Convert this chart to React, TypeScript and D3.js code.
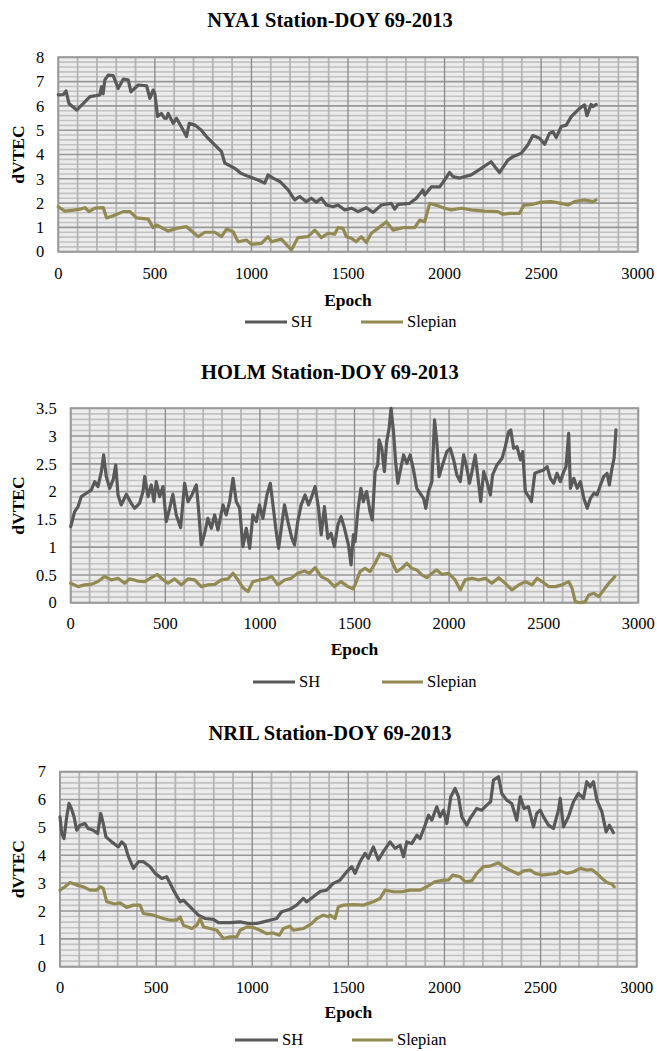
import React from "react";
import * as d3 from "d3";

type Pt = [number, number];

// ---------- DATA ----------
const xTicks = [0, 500, 1000, 1500, 2000, 2500, 3000];
const seriesNames = ["SH", "Slepian"];

const nya1Title = "NYA1 Station-DOY 69-2013";
const nya1YTicks = [0, 1, 2, 3, 4, 5, 6, 7, 8];
const nya1SH: Pt[] = [
  [0, 6.45], [26, 6.47], [40, 6.62], [55, 6.1], [95, 5.83], [130, 6.1], [164, 6.38], [215, 6.45], [224, 6.79],
  [232, 6.5], [241, 7.07], [259, 7.27], [284, 7.25], [310, 6.72], [336, 7.1], [362, 7.07], [376, 6.58],
  [414, 6.86], [457, 6.83], [474, 6.31], [491, 6.65], [500, 6.5], [514, 5.56], [534, 5.69], [548, 5.5], [560, 5.49],
  [569, 5.69], [595, 5.28], [612, 5.49], [640, 5.1], [664, 4.74], [678, 5.28], [707, 5.21], [741, 5.0],
  [750, 4.9], [767, 4.74], [802, 4.46], [845, 4.12], [862, 3.65], [914, 3.43], [945, 3.23], [983, 3.1],
  [1034, 2.95], [1069, 2.82], [1086, 3.16], [1112, 3.03], [1147, 2.89], [1190, 2.54], [1224, 2.13],
  [1250, 2.27], [1284, 2.06], [1310, 2.2], [1336, 2.04], [1362, 2.2], [1388, 1.92], [1422, 1.85],
  [1448, 1.92], [1483, 1.72], [1518, 1.79], [1552, 1.65], [1595, 1.81], [1630, 1.62], [1673, 1.92],
  [1724, 1.99], [1742, 1.75], [1759, 1.95], [1820, 1.99], [1854, 2.2], [1888, 2.54], [1897, 2.33],
  [1932, 2.67], [1975, 2.67], [2000, 2.95], [2026, 3.26], [2043, 3.09], [2078, 3.03], [2138, 3.16],
  [2190, 3.43], [2241, 3.7], [2267, 3.43], [2285, 3.26], [2328, 3.77], [2354, 3.91], [2397, 4.05],
  [2431, 4.39], [2457, 4.78], [2492, 4.67], [2518, 4.42], [2543, 4.87], [2561, 4.94], [2578, 4.7],
  [2604, 5.15], [2630, 5.21], [2656, 5.56], [2699, 5.9], [2725, 6.04], [2737, 5.6], [2759, 6.06],
  [2768, 5.97], [2785, 6.06],
];
const nya1Slepian: Pt[] = [
  [0, 1.85], [34, 1.67], [78, 1.71], [112, 1.75], [138, 1.81], [159, 1.65], [190, 1.79], [233, 1.81],
  [250, 1.39], [284, 1.48], [336, 1.65], [371, 1.65], [405, 1.39], [466, 1.34], [491, 0.99], [509, 1.1],
  [569, 0.85], [612, 0.96], [664, 1.03], [690, 0.85], [724, 0.62], [759, 0.8], [810, 0.8], [845, 0.62],
  [871, 0.93], [905, 0.82], [931, 0.41], [974, 0.48], [1000, 0.3], [1052, 0.34], [1086, 0.62],
  [1103, 0.41], [1155, 0.52], [1207, 0.07], [1241, 0.58], [1293, 0.62], [1328, 0.89], [1362, 0.58],
  [1397, 0.76], [1431, 0.72], [1448, 0.99], [1474, 0.96], [1491, 0.62], [1518, 0.55], [1543, 0.41],
  [1569, 0.62], [1595, 0.38], [1621, 0.76], [1655, 0.96], [1699, 1.23], [1733, 0.89], [1785, 0.99],
  [1845, 0.99], [1871, 1.3], [1897, 1.23], [1923, 1.99], [1966, 1.89], [2000, 1.79], [2035, 1.72],
  [2087, 1.79], [2138, 1.72], [2207, 1.67], [2276, 1.65], [2302, 1.54], [2345, 1.58], [2388, 1.58],
  [2411, 1.92], [2457, 1.95], [2500, 2.04], [2552, 2.06], [2604, 1.99], [2639, 1.92], [2673, 2.06],
  [2725, 2.13], [2768, 2.06], [2785, 2.13],
];

const holmTitle = "HOLM Station-DOY 69-2013";
const holmYTicks = [0, 0.5, 1, 1.5, 2, 2.5, 3, 3.5];
const holmSH: Pt[] = [
  [0, 1.37], [21, 1.64], [39, 1.73], [56, 1.91], [83, 1.97], [109, 2.03], [127, 2.18], [144, 2.09],
  [162, 2.36], [174, 2.66], [188, 2.27], [206, 2.06], [224, 2.21], [238, 2.48], [250, 1.94], [267, 1.76],
  [294, 1.95], [320, 1.79], [338, 1.7], [364, 1.79], [382, 2.0], [391, 2.27], [409, 1.91], [426, 2.12],
  [440, 1.82], [452, 2.18], [470, 1.91], [488, 2.09], [505, 1.46], [523, 1.7], [540, 1.95], [558, 1.58],
  [581, 1.35], [602, 2.15], [620, 1.82], [641, 1.94], [664, 2.12], [676, 1.67], [690, 1.04], [708, 1.25],
  [725, 1.52], [743, 1.34], [761, 1.58], [778, 1.31], [805, 1.76], [822, 1.58], [840, 1.82], [858, 2.24],
  [875, 1.82], [893, 1.7], [910, 1.01], [928, 1.34], [946, 0.98], [963, 1.58], [981, 1.46], [998, 1.76],
  [1016, 1.52], [1037, 1.94], [1055, 2.15], [1069, 1.76], [1086, 1.28], [1099, 0.98], [1113, 1.34],
  [1130, 1.76], [1148, 1.46], [1169, 1.16], [1183, 1.04], [1200, 1.46], [1218, 1.76], [1239, 1.94],
  [1257, 1.76], [1271, 1.88], [1292, 2.09], [1310, 1.7], [1324, 1.22], [1341, 1.73], [1359, 1.16],
  [1376, 1.25], [1394, 1.01], [1412, 1.4], [1429, 1.55], [1447, 1.34], [1468, 1.04], [1482, 0.68],
  [1494, 1.22], [1503, 1.1], [1517, 1.64], [1534, 2.06], [1547, 1.82], [1564, 2.0], [1582, 1.64],
  [1594, 1.49], [1609, 2.36], [1623, 2.48], [1630, 2.93], [1644, 2.78], [1658, 2.36], [1670, 2.9],
  [1683, 3.14], [1693, 3.5], [1706, 3.08], [1718, 2.51], [1729, 2.15], [1741, 2.36], [1759, 2.66],
  [1777, 2.51], [1794, 2.66], [1812, 2.39], [1829, 2.06], [1847, 1.97], [1865, 1.88], [1877, 1.7],
  [1891, 2.0], [1909, 2.18], [1923, 3.29], [1935, 2.9], [1947, 2.27], [1965, 2.48], [1988, 2.72],
  [2006, 2.78], [2024, 2.57], [2041, 2.3], [2059, 2.18], [2077, 2.66], [2094, 2.42], [2108, 2.15],
  [2121, 2.36], [2138, 2.66], [2153, 2.24], [2167, 1.82], [2183, 2.36], [2200, 2.18], [2218, 1.94],
  [2230, 2.3], [2253, 2.48], [2280, 2.6], [2297, 2.81], [2315, 3.08], [2326, 3.11], [2341, 2.78],
  [2359, 2.81], [2377, 2.57], [2389, 2.72], [2403, 2.0], [2421, 1.91], [2435, 1.82], [2453, 2.33],
  [2474, 2.36], [2500, 2.39], [2518, 2.45], [2535, 2.24], [2553, 2.15], [2570, 2.33], [2588, 2.18],
  [2606, 2.36], [2618, 2.45], [2632, 3.05], [2641, 2.06], [2659, 2.24], [2677, 2.06], [2694, 2.18],
  [2712, 1.88], [2730, 1.7], [2747, 1.88], [2765, 1.97], [2782, 1.94], [2800, 2.12], [2817, 2.27],
  [2835, 2.33], [2847, 2.12], [2861, 2.42], [2872, 2.6], [2882, 3.11],
];
const holmSlepian: Pt[] = [
  [0, 0.35], [39, 0.29], [74, 0.32], [109, 0.33], [144, 0.38], [179, 0.47], [215, 0.41], [250, 0.44],
  [285, 0.35], [311, 0.43], [355, 0.39], [391, 0.38], [426, 0.45], [458, 0.51], [479, 0.44], [514, 0.35],
  [549, 0.43], [585, 0.32], [620, 0.43], [655, 0.41], [690, 0.29], [725, 0.32], [761, 0.33], [796, 0.41],
  [831, 0.43], [858, 0.53], [884, 0.41], [910, 0.27], [937, 0.2], [963, 0.38], [998, 0.41], [1034, 0.43],
  [1063, 0.47], [1095, 0.32], [1130, 0.41], [1165, 0.44], [1200, 0.53], [1236, 0.57], [1262, 0.53],
  [1292, 0.63], [1324, 0.47], [1359, 0.41], [1394, 0.29], [1429, 0.38], [1465, 0.29], [1491, 0.25],
  [1503, 0.32], [1529, 0.56], [1556, 0.62], [1582, 0.56], [1609, 0.71], [1635, 0.89], [1662, 0.86],
  [1688, 0.83], [1706, 0.68], [1723, 0.56], [1750, 0.62], [1777, 0.71], [1803, 0.62], [1829, 0.59],
  [1856, 0.5], [1882, 0.45], [1909, 0.53], [1935, 0.59], [1962, 0.51], [1997, 0.53], [2032, 0.41],
  [2059, 0.23], [2085, 0.41], [2121, 0.44], [2156, 0.41], [2191, 0.44], [2226, 0.35], [2262, 0.45],
  [2297, 0.35], [2332, 0.23], [2368, 0.32], [2403, 0.38], [2438, 0.32], [2465, 0.44], [2491, 0.38],
  [2526, 0.29], [2562, 0.29], [2597, 0.32], [2632, 0.38], [2650, 0.26], [2667, 0.02], [2694, 0.0],
  [2720, 0.02], [2738, 0.14], [2765, 0.17], [2791, 0.11], [2817, 0.23], [2844, 0.35], [2876, 0.47],
];

const nrilTitle = "NRIL Station-DOY 69-2013";
const nrilYTicks = [0, 1, 2, 3, 4, 5, 6, 7];
const nrilSH: Pt[] = [
  [0, 5.38], [9, 4.78], [21, 4.6], [35, 5.38], [47, 5.86], [59, 5.68], [73, 5.38], [87, 4.9], [104, 5.08],
  [130, 5.14], [147, 4.96], [173, 4.9], [196, 4.78], [212, 5.5], [225, 5.14], [239, 4.66], [269, 4.48],
  [304, 4.3], [321, 4.48], [338, 4.36], [356, 3.95], [382, 3.53], [408, 3.77], [434, 3.77], [469, 3.59],
  [495, 3.35], [529, 3.17], [555, 3.23], [590, 2.75], [625, 2.33], [642, 2.39], [677, 2.15], [720, 1.85],
  [755, 1.73], [798, 1.7], [824, 1.58], [885, 1.58], [937, 1.61], [980, 1.55], [1023, 1.55], [1058, 1.61],
  [1092, 1.67], [1127, 1.73], [1153, 1.97], [1196, 2.06], [1231, 2.21], [1266, 2.45], [1283, 2.33],
  [1318, 2.51], [1353, 2.7], [1387, 2.75], [1422, 2.99], [1457, 3.11], [1492, 3.41], [1518, 3.59],
  [1535, 3.35], [1561, 3.77], [1587, 4.07], [1604, 3.89], [1630, 4.3], [1656, 3.83], [1682, 4.13],
  [1717, 4.48], [1743, 4.25], [1769, 4.36], [1787, 3.95], [1804, 4.48], [1830, 4.42], [1856, 4.72],
  [1873, 4.6], [1899, 5.08], [1917, 5.44], [1934, 5.26], [1960, 5.74], [1977, 5.38], [1995, 5.62],
  [2012, 5.14], [2033, 6.1], [2055, 6.4], [2073, 6.1], [2090, 5.38], [2116, 5.08], [2133, 5.32],
  [2151, 5.5], [2168, 5.68], [2194, 5.62], [2220, 5.8], [2240, 5.92], [2255, 6.7], [2281, 6.82],
  [2298, 6.22], [2324, 5.98], [2350, 5.86], [2376, 5.26], [2394, 6.1], [2414, 5.68], [2437, 5.74],
  [2463, 5.02], [2480, 5.5], [2498, 5.62], [2515, 5.38], [2541, 5.08], [2567, 4.96], [2593, 5.62],
  [2602, 6.04], [2619, 5.02], [2645, 5.38], [2671, 5.92], [2697, 6.22], [2723, 6.04], [2740, 6.64],
  [2758, 6.46], [2775, 6.64], [2793, 5.98], [2819, 5.56], [2841, 4.84], [2858, 5.08], [2879, 4.81],
];
const nrilSlepian: Pt[] = [
  [0, 2.75], [26, 2.87], [52, 3.02], [87, 2.93], [121, 2.87], [156, 2.75], [191, 2.75], [208, 2.87],
  [225, 2.81], [243, 2.33], [286, 2.25], [312, 2.29], [347, 2.13], [382, 2.21], [416, 2.21], [434, 1.91],
  [486, 1.85], [538, 1.73], [573, 1.67], [607, 1.67], [625, 1.79], [642, 1.49], [686, 1.37], [712, 1.49],
  [729, 1.73], [746, 1.43], [781, 1.37], [816, 1.31], [850, 1.01], [885, 1.07], [920, 1.07], [937, 1.31],
  [972, 1.43], [1006, 1.41], [1041, 1.31], [1075, 1.19], [1110, 1.21], [1141, 1.13], [1162, 1.37],
  [1196, 1.45], [1214, 1.31], [1266, 1.37], [1309, 1.55], [1335, 1.73], [1370, 1.85], [1396, 1.79],
  [1405, 1.85], [1431, 1.73], [1448, 2.15], [1474, 2.21], [1526, 2.23], [1578, 2.21], [1630, 2.33],
  [1665, 2.45], [1691, 2.75], [1734, 2.69], [1778, 2.69], [1821, 2.75], [1873, 2.75], [1908, 2.87],
  [1951, 3.05], [1995, 3.11], [2021, 3.11], [2043, 3.29], [2081, 3.23], [2107, 3.05], [2142, 3.08],
  [2168, 3.35], [2203, 3.59], [2237, 3.61], [2281, 3.73], [2307, 3.59], [2333, 3.49], [2359, 3.41],
  [2385, 3.32], [2411, 3.44], [2446, 3.47], [2472, 3.35], [2506, 3.29], [2550, 3.32], [2584, 3.35],
  [2602, 3.44], [2636, 3.35], [2671, 3.41], [2706, 3.53], [2740, 3.47], [2766, 3.49], [2793, 3.35],
  [2819, 3.17], [2845, 3.02], [2871, 2.97], [2883, 2.87],
];

// ---------- STYLE ----------
const SH_COLOR = "#595959";
const SLEP_COLOR = "#938953";
const FONT = "'Liberation Serif', 'Times New Roman', serif";

interface ChartCfg {
  title: string;
  titleY: number;
  box: { x0: number; x1: number; y0: number; y1: number };
  yTicks: number[];
  yMinor: number;
  sh: Pt[];
  slep: Pt[];
  xLabelY: number;
  epochY: number;
  legendY: number;
  legend: { sh: [number, number]; slep: [number, number] };
}

const charts: ChartCfg[] = [
  {
    title: nya1Title, titleY: 27,
    box: { x0: 58.3, x1: 637.7, y0: 57.3, y1: 251.7 },
    yTicks: nya1YTicks, yMinor: 0.2, sh: nya1SH, slep: nya1Slepian,
    xLabelY: 279, epochY: 306, legendY: 322,
    legend: { sh: [245, 287], slep: [361, 403] },
  },
  {
    title: holmTitle, titleY: 379,
    box: { x0: 70.7, x1: 638.3, y0: 408.3, y1: 602.7 },
    yTicks: holmYTicks, yMinor: 0.1, sh: holmSH, slep: holmSlepian,
    xLabelY: 629, epochY: 655, legendY: 682,
    legend: { sh: [253, 295], slep: [382, 423] },
  },
  {
    title: nrilTitle, titleY: 740,
    box: { x0: 60, x1: 636.7, y0: 771.7, y1: 966.7 },
    yTicks: nrilYTicks, yMinor: 0.2, sh: nrilSH, slep: nrilSlepian,
    xLabelY: 993, epochY: 1018, legendY: 1040,
    legend: { sh: [235, 278], slep: [352, 393] },
  },
];

function Chart({ c }: { c: ChartCfg }) {
  const { box } = c;
  const yMax = c.yTicks[c.yTicks.length - 1];
  const x = d3.scaleLinear().domain([0, 3000]).range([box.x0, box.x1]);
  const y = d3.scaleLinear().domain([0, yMax]).range([box.y1, box.y0]);
  const line = d3.line<Pt>().x((d) => x(d[0])).y((d) => y(d[1]));
  const minorY = d3.range(0, yMax + 1e-9, c.yMinor).filter((v) => !c.yTicks.some((t) => Math.abs(t - v) < 1e-6));
  const minorX = d3.range(0, 3001, 100).filter((v) => v % 500 !== 0);
  const cx = (box.x0 + box.x1) / 2;
  const cy = (box.y0 + box.y1) / 2;
  return (
    <g>
      <text x={330} y={c.titleY} textAnchor="middle" fontFamily={FONT} fontWeight="bold" fontSize={20.5} fill="#000">
        {c.title}
      </text>
      <rect x={box.x0} y={box.y0} width={box.x1 - box.x0} height={box.y1 - box.y0} fill="#ececec" />
      {minorY.map((v, i) => (
        <line key={"hy" + i} x1={box.x0} x2={box.x1} y1={y(v)} y2={y(v)} stroke="#c2c2c2" strokeWidth={1.6} />
      ))}
      {minorX.map((v) => (
        <line key={"vx" + v} x1={x(v)} x2={x(v)} y1={box.y0} y2={box.y1} stroke="#b5b5b5" strokeWidth={1.8} />
      ))}
      {c.yTicks.map((v) => (
        <line key={"my" + v} x1={box.x0} x2={box.x1} y1={y(v)} y2={y(v)} stroke="#979797" strokeWidth={1.6} />
      ))}
      {xTicks.map((v) => (
        <line key={"mx" + v} x1={x(v)} x2={x(v)} y1={box.y0} y2={box.y1} stroke="#8a8a8a" strokeWidth={1.3} />
      ))}
      <rect x={box.x0} y={box.y0} width={box.x1 - box.x0} height={box.y1 - box.y0} fill="none" stroke="#9a9a9a" strokeWidth={2} />
      <path d={line(c.sh) || ""} fill="none" stroke={SH_COLOR} strokeWidth={3.2} strokeLinejoin="round" strokeLinecap="round" />
      <path d={line(c.slep) || ""} fill="none" stroke={SLEP_COLOR} strokeWidth={3.2} strokeLinejoin="round" strokeLinecap="round" />
      {c.yTicks.map((v) => (
        <text key={"yl" + v} x={box.x0 - 14} y={y(v)} dy="0.35em" textAnchor="end" fontFamily={FONT} fontSize={16.5} fill="#000">
          {v}
        </text>
      ))}
      {xTicks.map((v) => (
        <text key={"xl" + v} x={x(v)} y={c.xLabelY} textAnchor="middle" fontFamily={FONT} fontSize={16.5} fill="#000">
          {v}
        </text>
      ))}
      <text x={cx} y={c.epochY} textAnchor="middle" fontFamily={FONT} fontWeight="bold" fontSize={17.5} fill="#000">
        Epoch
      </text>
      <text transform={`translate(${24},${cy}) rotate(-90)`} textAnchor="middle" fontFamily={FONT} fontWeight="bold" fontSize={17.5} fill="#000">
        dVTEC
      </text>
      <line x1={c.legend.sh[0]} x2={c.legend.sh[1]} y1={c.legendY} y2={c.legendY} stroke={SH_COLOR} strokeWidth={3.2} />
      <text x={c.legend.sh[1] + 4} y={c.legendY} dy="0.33em" fontFamily={FONT} fontSize={16.5} fill="#000">
        {seriesNames[0]}
      </text>
      <line x1={c.legend.slep[0]} x2={c.legend.slep[1]} y1={c.legendY} y2={c.legendY} stroke={SLEP_COLOR} strokeWidth={3.2} />
      <text x={c.legend.slep[1] + 4} y={c.legendY} dy="0.33em" fontFamily={FONT} fontSize={16.5} fill="#000">
        {seriesNames[1]}
      </text>
    </g>
  );
}

export default function App() {
  return (
    <div style={{ position: "absolute", left: 0, top: 0 }}>
      <svg width={657} height={1051} viewBox="0 0 657 1051" style={{ display: "block", background: "#fff" }}>
        {charts.map((c, i) => (
          <Chart key={i} c={c} />
        ))}
      </svg>
    </div>
  );
}
